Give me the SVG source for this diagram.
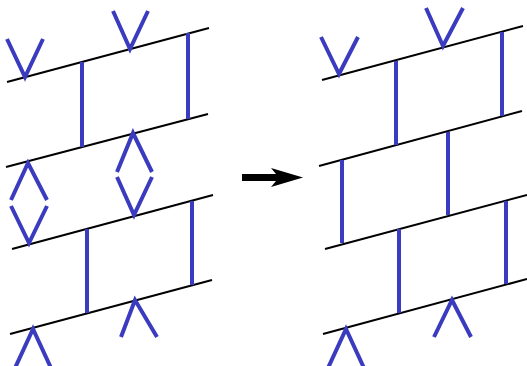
<svg xmlns="http://www.w3.org/2000/svg" width="527" height="366" viewBox="0 0 527 366">
<style>
.k{stroke:#000;stroke-width:2;fill:none}
.b{stroke:#3b3bbf;stroke-width:4;fill:none}
</style>
<rect width="527" height="366" fill="#fff"/>
<g id="left">
<g id="left-lines">
<line class="k" x1="7" y1="82" x2="209" y2="28"/>
<line class="k" x1="6" y1="167" x2="208" y2="114"/>
<line class="k" x1="12" y1="249" x2="213" y2="195"/>
<line class="k" x1="10" y1="334" x2="212" y2="280"/>
</g>
<g id="left-blue">
<polyline class="b" points="7,39 25,77 43,39"/>
<polyline class="b" points="113,11 130,49 148,11"/>
<line class="b" x1="82" y1="62" x2="82" y2="147"/>
<line class="b" x1="188" y1="33" x2="188" y2="119"/>
<polyline class="b" points="11,200 28,163 47,200"/>
<polyline class="b" points="11,206 29,243 47,206"/>
<polyline class="b" points="117,172 133,133 152,172"/>
<polyline class="b" points="117,177 134,215 152,177"/>
<line class="b" x1="87" y1="229" x2="87" y2="313"/>
<line class="b" x1="192" y1="201" x2="192" y2="285"/>
<polyline class="b" points="15,368 33,329 51,368"/>
<polyline class="b" points="121,337 135,300 157,337"/>
</g>
</g>
<g id="arrow">
<path d="M242,174 L276,174 L271,168 L303,177.5 L271,187 L276,181 L242,181 Z" fill="#000"/>
</g>
<g id="right">
<g id="right-lines">
<line class="k" x1="322" y1="80" x2="523" y2="26"/>
<line class="k" x1="319" y1="166" x2="522" y2="111"/>
<line class="k" x1="325" y1="249" x2="527" y2="195"/>
<line class="k" x1="323" y1="334" x2="527" y2="279"/>
</g>
<g id="right-blue">
<polyline class="b" points="321,37 339,74 358,37"/>
<polyline class="b" points="426,8 443,46 463,8"/>
<line class="b" x1="396" y1="61" x2="396" y2="145"/>
<line class="b" x1="502" y1="32" x2="502" y2="116"/>
<line class="b" x1="342" y1="160" x2="342" y2="243"/>
<line class="b" x1="448" y1="132" x2="448" y2="215"/>
<line class="b" x1="399" y1="229" x2="399" y2="313"/>
<line class="b" x1="506" y1="201" x2="506" y2="284"/>
<polyline class="b" points="328,368 346,329 364,368"/>
<polyline class="b" points="434,337 452,300 471,337"/>
</g>
</g>
</svg>
